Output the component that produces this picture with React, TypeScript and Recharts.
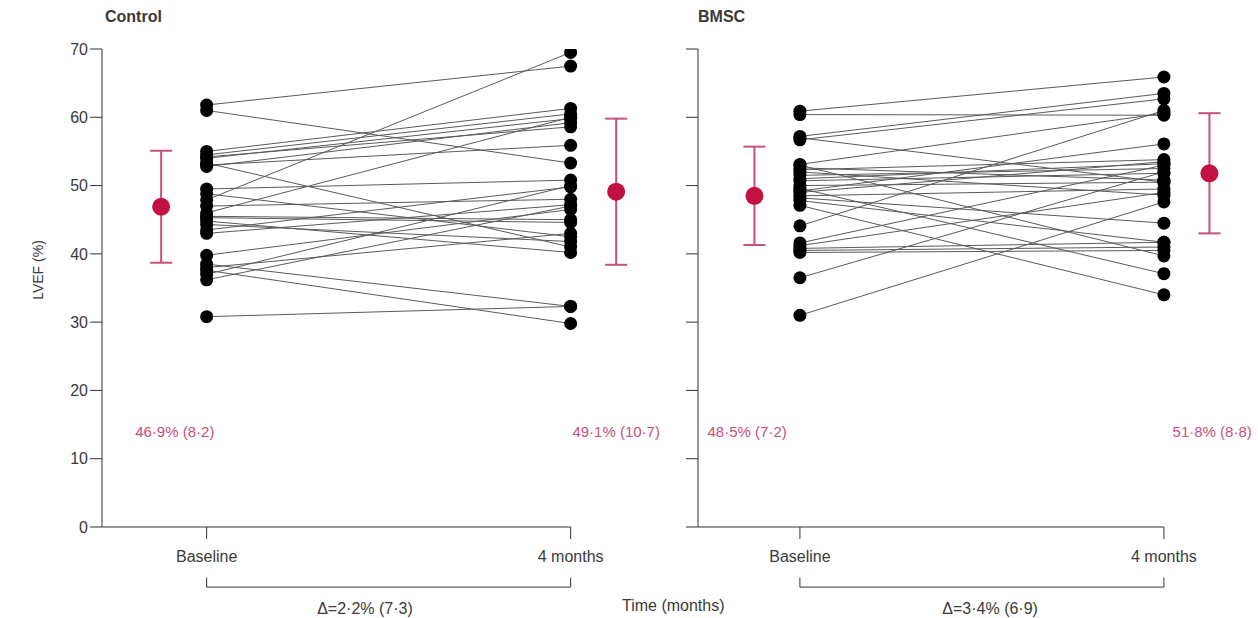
import {
  ComposedChart,
  Line,
  Scatter,
  ErrorBar,
  XAxis,
  YAxis,
  ReferenceLine,
  ReferenceDot,
} from "recharts";

const timeTicks = [0, 4];
const timeLabels = ["Baseline", "4 months"];
const meanX = [-0.5, 4.5];
const yTicks = [0, 10, 20, 30, 40, 50, 60, 70];

// LVEF (%) per patient
const controlBaseline = [
  61.8, 61.0, 55.0, 54.5, 54.0, 53.3, 52.8, 53.0, 49.5, 48.8, 47.9, 47.0,
  46.0, 45.3, 44.8, 44.3, 43.5, 43.0, 39.8, 38.5, 37.6, 37.0, 36.2, 30.8,
  54.2, 45.5, 38.0,
];
const controlMonth4 = [
  67.5, 53.3, 61.3, 60.5, 59.8, 41.0, 59.2, 55.9, 50.8, 42.5, 69.5, 48.0,
  60.0, 44.6, 40.2, 41.8, 49.8, 47.2, 46.5, 32.3, 29.8, 50.0, 47.0, 32.3,
  58.6, 45.0, 43.0,
];
const controlMean = [46.9, 49.1];
const controlSd = [8.2, 10.7];
const controlMeanLabels = ["46·9% (8·2)", "49·1% (10·7)"];
const controlDelta = "Δ=2·2% (7·3)";

const bmscBaseline = [
  60.9, 60.4, 57.2, 56.7, 53.1, 52.3, 51.5, 50.7, 50.0, 49.2, 48.5, 47.8,
  47.1, 52.0, 49.6, 44.1, 41.6, 40.8, 40.2, 36.5, 31.0, 53.0, 48.2, 51.0,
  41.2, 57.0, 52.6, 49.0, 40.5,
];
const bmscMonth4 = [
  65.9, 60.3, 63.5, 62.7, 60.6, 53.8, 52.5, 51.8, 50.5, 56.1, 49.5, 41.7,
  34.0, 48.6, 37.1, 61.0, 53.0, 41.7, 40.5, 52.0, 47.6, 39.7, 44.5, 53.2,
  49.0, 50.5, 50.8, 53.5, 41.0,
];
const bmscMean = [48.5, 51.8];
const bmscSd = [7.2, 8.8];
const bmscMeanLabels = ["48·5% (7·2)", "51·8% (8·8)"];
const bmscDelta = "Δ=3·4% (6·9)";

const TEXT = "#3a3a3a";
const RED = "#c3123f";
const RED_LIGHT = "#c9507a";
const FONT = "'Liberation Sans', Arial, sans-serif";

interface PanelProps {
  left: number;
  width: number;
  plotLeft: number;
  xDomain: [number, number];
  baseline: number[];
  month4: number[];
  mean: number[];
  sd: number[];
  meanLabels: string[];
  labelX: number[];
  delta: string;
  deltaX: number;
  showYLabels: boolean;
}

const Panel = ({
  left,
  width,
  plotLeft,
  xDomain,
  baseline,
  month4,
  mean,
  sd,
  meanLabels,
  labelX,
  delta,
  deltaX,
  showYLabels,
}: PanelProps) => {
  const plotWidth = (xDomain[1] - xDomain[0]) * 91;
  const pairs = baseline.map((b, i) => [
    { x: timeTicks[0], y: b },
    { x: timeTicks[1], y: month4[i] },
  ]);
  const means = mean.map((m, i) => ({ x: meanX[i], y: m, sd: sd[i] }));

  return (
    <div style={{ position: "absolute", left, top: 0 }}>
      <ComposedChart
        width={width}
        height={618}
        margin={{ top: 49, right: width - plotLeft - plotWidth, bottom: 51, left: 0 }}
      >
        <XAxis
          type="number"
          dataKey="x"
          domain={xDomain}
          ticks={timeTicks}
          tickFormatter={(v) => timeLabels[timeTicks.indexOf(v)]}
          axisLine={false}
          tickSize={12}
          tickMargin={12}
          tickLine={{ stroke: "#333" }}
          tick={{ fill: TEXT, fontSize: 16, fontFamily: FONT }}
          height={40}
          allowDataOverflow
        />
        <YAxis
          type="number"
          dataKey="y"
          domain={[0, 70]}
          ticks={yTicks}
          width={plotLeft}
          tickSize={12}
          tickMargin={2}
          axisLine={{ stroke: "#333" }}
          tickLine={{ stroke: "#333" }}
          tick={{ fill: TEXT, fontSize: 16, fontFamily: FONT }}
          tickFormatter={(v) => (showYLabels ? String(v) : "")}
          allowDataOverflow
        />
        <ReferenceLine
          segment={[
            { x: xDomain[0], y: 0 },
            { x: timeTicks[1], y: 0 },
          ]}
          stroke="#333"
          ifOverflow="visible"
        />
        {/* bracket under the time axis */}
        <ReferenceLine
          segment={[
            { x: timeTicks[0], y: -8.8 },
            { x: timeTicks[1], y: -8.8 },
          ]}
          stroke="#333"
          ifOverflow="visible"
        />
        <ReferenceLine
          segment={[
            { x: timeTicks[0], y: -7.4 },
            { x: timeTicks[0], y: -8.8 },
          ]}
          stroke="#333"
          ifOverflow="visible"
        />
        <ReferenceLine
          segment={[
            { x: timeTicks[1], y: -7.4 },
            { x: timeTicks[1], y: -8.8 },
          ]}
          stroke="#333"
          ifOverflow="visible"
        />
        <ReferenceDot
          x={deltaX}
          y={-11.9}
          r={1}
          fill="none"
          stroke="none"
          ifOverflow="visible"
          label={{ value: delta, position: "center", fill: TEXT, fontSize: 16, fontFamily: FONT }}
        />
        {pairs.map((d, i) => (
          <Line
            key={i}
            data={d}
            dataKey="y"
            stroke="#5a5a5a"
            strokeWidth={1}
            dot={{ r: 6.5, fill: "#000", stroke: "#000", strokeWidth: 0 }}
            activeDot={false}
            isAnimationActive={false}
          />
        ))}
        <Scatter
          data={means}
          dataKey="y"
          isAnimationActive={false}
          shape={(p: any) => <circle cx={p.cx} cy={p.cy} r={9} fill={RED} />}
        >
          <ErrorBar
            dataKey="sd"
            direction="y"
            width={11}
            stroke={RED_LIGHT}
            strokeWidth={2}
            isAnimationActive={false}
          />
        </Scatter>
        {meanLabels.map((t, i) => (
          <ReferenceDot
            key={t}
            x={labelX[i]}
            y={14}
            r={1}
            fill="none"
            stroke="none"
            ifOverflow="visible"
            label={{ value: t, position: "center", fill: RED_LIGHT, fontSize: 15, fontFamily: FONT }}
          />
        ))}
      </ComposedChart>
    </div>
  );
};

export default function App() {
  return (
    <div
      style={{
        position: "absolute",
        left: 0,
        top: 0,
        width: 1258,
        height: 618,
        background: "#fff",
        fontFamily: FONT,
        color: TEXT,
        overflow: "hidden",
      }}
    >
      <Panel
        left={0}
        width={680}
        plotLeft={102}
        xDomain={[-1.15, 4.85]}
        baseline={controlBaseline}
        month4={controlMonth4}
        mean={controlMean}
        sd={controlSd}
        meanLabels={controlMeanLabels}
        labelX={[-0.35, 4.5]}
        delta={controlDelta}
        deltaX={1.74}
        showYLabels
      />
      <Panel
        left={600}
        width={658}
        plotLeft={98}
        xDomain={[-1.12, 4.88]}
        baseline={bmscBaseline}
        month4={bmscMonth4}
        mean={bmscMean}
        sd={bmscSd}
        meanLabels={bmscMeanLabels}
        labelX={[-0.58, 4.53]}
        delta={bmscDelta}
        deltaX={2.09}
        showYLabels={false}
      />
      <div style={{ position: "absolute", left: 105, top: 8, fontSize: 16, fontWeight: "bold" }}>
        Control
      </div>
      <div style={{ position: "absolute", left: 698, top: 8, fontSize: 16, fontWeight: "bold" }}>
        BMSC
      </div>
      <div
        style={{
          position: "absolute",
          left: 38,
          top: 270,
          fontSize: 14,
          transform: "translate(-50%, -50%) rotate(-90deg)",
          whiteSpace: "nowrap",
        }}
      >
        LVEF (%)
      </div>
      <div style={{ position: "absolute", left: 622, top: 597, fontSize: 16, whiteSpace: "nowrap" }}>
        Time (months)
      </div>
    </div>
  );
}
